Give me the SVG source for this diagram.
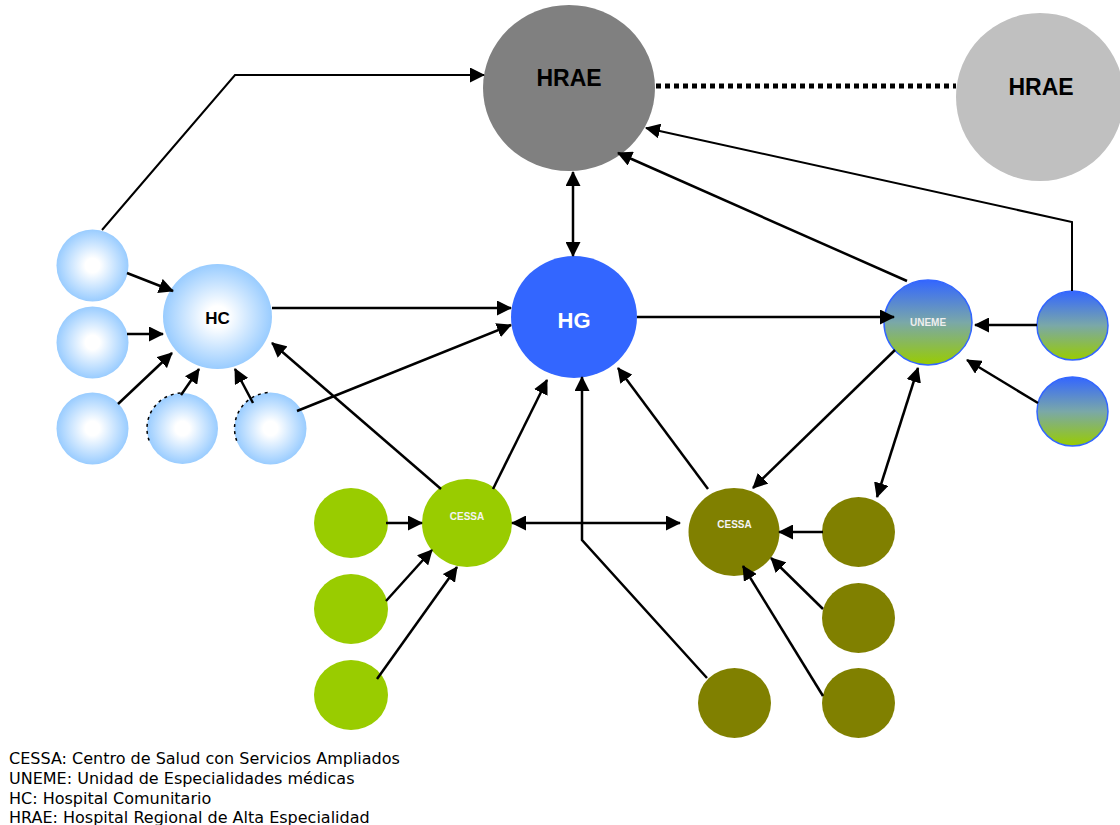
<svg xmlns="http://www.w3.org/2000/svg" width="1120" height="825" viewBox="0 0 1120 825">
  <style>
    .lbl { font-family: "Liberation Sans", Arial, sans-serif; font-weight: bold; text-anchor: middle; }
    .edge { fill: none; stroke: #000; stroke-width: 2.5; }
    .thin { stroke-width: 2; }
    .legend { font-family: "DejaVu Sans", Verdana, sans-serif; font-size: 16px; fill: #000; }
    .hc { fill: url(#hcGrad); }
    .un { fill: url(#unGrad); stroke: #3366ff; stroke-width: 1.5; }
    .green { fill: #99cc00; }
    .olive { fill: #808000; }
    .scan { fill: none; stroke: #000; stroke-width: 1.5; stroke-dasharray: 3 4; }
  </style>
  <defs>
    <radialGradient id="hcGrad" cx="0.5" cy="0.5" r="0.5">
      <stop offset="0" stop-color="#ffffff"/>
      <stop offset="0.2" stop-color="#ffffff"/>
      <stop offset="1" stop-color="#99ccff"/>
    </radialGradient>
    <linearGradient id="unGrad" x1="0" y1="0" x2="0" y2="1">
      <stop offset="0" stop-color="#3366ff"/>
      <stop offset="0.5" stop-color="#7aa8a8"/>
      <stop offset="1" stop-color="#99cc00"/>
    </linearGradient>
    <marker id="ah" viewBox="0 0 15 15" refX="14" refY="7.5" markerWidth="15" markerHeight="15" markerUnits="userSpaceOnUse" orient="auto-start-reverse">
      <path d="M0,0 L15,7.5 L0,15 z" fill="#000"/>
    </marker>
  </defs>

  <!-- hospitals -->
  <g id="hrae-main">
    <ellipse cx="569" cy="88" rx="86" ry="83" fill="#808080"/>
    <text class="lbl" x="569" y="86" font-size="23">HRAE</text>
  </g>
  <g id="hrae-other">
    <circle cx="1040" cy="97" r="84" fill="#c0c0c0"/>
    <text class="lbl" x="1041" y="95" font-size="23">HRAE</text>
  </g>
  <g id="hg">
    <ellipse cx="574" cy="317" rx="63" ry="61" fill="#3366ff"/>
    <text class="lbl" x="574" y="328" font-size="22" fill="#fff">HG</text>
  </g>

  <!-- community hospital cluster -->
  <g id="hc">
    <ellipse cx="217.5" cy="316.5" rx="54.5" ry="52.5" class="hc"/>
    <text class="lbl" x="217.5" y="324" font-size="17">HC</text>
  </g>
  <g id="hc-unit-1"><circle cx="92.5" cy="265.5" r="36" class="hc"/></g>
  <g id="hc-unit-2"><circle cx="92.5" cy="342.5" r="36" class="hc"/></g>
  <g id="hc-unit-3"><circle cx="92.5" cy="428.5" r="36" class="hc"/></g>
  <g id="hc-unit-4">
    <circle cx="182.5" cy="428.5" r="35.5" class="hc"/>
    <path class="scan" d="M149.1,440.6 A35.5,35.5 0 0 1 182.5,393"/>
  </g>
  <g id="hc-unit-5">
    <circle cx="270.5" cy="428.5" r="36" class="hc"/>
    <path class="scan" d="M236.7,440.8 A36,36 0 0 1 270.5,392.5"/>
  </g>

  <!-- health centre cluster (green) -->
  <g id="cessa-a">
    <ellipse cx="467" cy="523" rx="45" ry="44" class="green"/>
    <text class="lbl" x="467" y="520" font-size="10" fill="#f4f4f4">CESSA</text>
  </g>
  <g id="cessa-a-unit-1"><ellipse cx="351" cy="523" rx="37" ry="35" class="green"/></g>
  <g id="cessa-a-unit-2"><ellipse cx="351" cy="609" rx="37" ry="35" class="green"/></g>
  <g id="cessa-a-unit-3"><ellipse cx="351" cy="695" rx="37" ry="35" class="green"/></g>

  <!-- health centre cluster (olive) -->
  <g id="cessa-b">
    <ellipse cx="734" cy="532" rx="45.5" ry="44" class="olive"/>
    <text class="lbl" x="734.5" y="528" font-size="10" fill="#f4f4f4">CESSA</text>
  </g>
  <g id="cessa-b-unit-1"><ellipse cx="858.5" cy="532" rx="36.5" ry="35" class="olive"/></g>
  <g id="cessa-b-unit-2"><ellipse cx="858.5" cy="618" rx="36.5" ry="35" class="olive"/></g>
  <g id="cessa-b-unit-3"><ellipse cx="858.5" cy="703" rx="36.5" ry="35" class="olive"/></g>
  <g id="cessa-b-unit-4"><ellipse cx="734.5" cy="703" rx="36.5" ry="35" class="olive"/></g>

  <!-- specialty unit cluster -->
  <g id="uneme">
    <ellipse cx="928" cy="322.5" rx="44" ry="42.5" class="un"/>
    <text class="lbl" x="928" y="326" font-size="10" fill="#eeeeee">UNEME</text>
  </g>
  <g id="uneme-unit-1"><ellipse cx="1072.5" cy="325.5" rx="35.5" ry="34.5" class="un"/></g>
  <g id="uneme-unit-2"><ellipse cx="1072.5" cy="411.5" rx="35.5" ry="34.5" class="un"/></g>

  <!-- connectors -->
  <g id="connectors">
    <path class="edge thin" d="M102,230 L235,75 L484,75" marker-end="url(#ah)"/>
    <path class="edge" d="M127,273 L173,291" marker-end="url(#ah)"/>
    <path class="edge" d="M127,334 L163,334" marker-end="url(#ah)"/>
    <path class="edge" d="M118,404 L172,353" marker-end="url(#ah)"/>
    <path class="edge" d="M181,395 L199,369" marker-end="url(#ah)"/>
    <path class="edge" d="M253,403 L235,369" marker-end="url(#ah)"/>
    <path class="edge" d="M297,411 L511,325" marker-end="url(#ah)"/>
    <path class="edge" d="M272,308 L511,308" marker-end="url(#ah)"/>
    <path class="edge" d="M441,489 L272,343" marker-end="url(#ah)"/>
    <path class="edge" d="M493,489 L547,380" marker-end="url(#ah)"/>
    <path class="edge" d="M386,523 L422,523" marker-end="url(#ah)"/>
    <path class="edge" d="M386,601 L432,550" marker-end="url(#ah)"/>
    <path class="edge" d="M377,679 L457,567" marker-end="url(#ah)"/>
    <path class="edge" d="M512,523 L680,523" marker-start="url(#ah)" marker-end="url(#ah)"/>
    <path class="edge" d="M823,532 L779,532" marker-end="url(#ah)"/>
    <path class="edge" d="M823,609 L771,558" marker-end="url(#ah)"/>
    <path class="edge" d="M823,696 L743,566" marker-end="url(#ah)"/>
    <path class="edge" d="M707,678 L582,540 L582,377" marker-end="url(#ah)"/>
    <path class="edge" d="M708,489 L618,368" marker-end="url(#ah)"/>
    <path class="edge" d="M895,350 L753,488" marker-end="url(#ah)"/>
    <path class="edge" d="M877,497 L918,368" marker-start="url(#ah)" marker-end="url(#ah)"/>
    <path class="edge" d="M1037,325 L975,325" marker-end="url(#ah)"/>
    <path class="edge" d="M1038,403 L967,360" marker-end="url(#ah)"/>
    <path class="edge" d="M637,317 L894,317" marker-end="url(#ah)"/>
    <path class="edge" d="M907,281 L618,153" marker-end="url(#ah)"/>
    <path class="edge thin" d="M1072,291 L1072,222 L646,128" marker-end="url(#ah)"/>
    <path class="edge" d="M573,172 L573,256" marker-start="url(#ah)" marker-end="url(#ah)"/>
    <path d="M656,86 L956,86" fill="none" stroke="#000" stroke-width="5" stroke-dasharray="5 4"/>
  </g>

  <!-- legend -->
  <g id="legend">
    <text class="legend" x="9" y="764">CESSA: Centro de Salud con Servicios Ampliados</text>
    <text class="legend" x="9" y="784">UNEME: Unidad de Especialidades médicas</text>
    <text class="legend" x="9" y="803.5">HC: Hospital Comunitario</text>
    <text class="legend" x="9" y="823">HRAE: Hospital Regional de Alta Especialidad</text>
  </g>
</svg>
